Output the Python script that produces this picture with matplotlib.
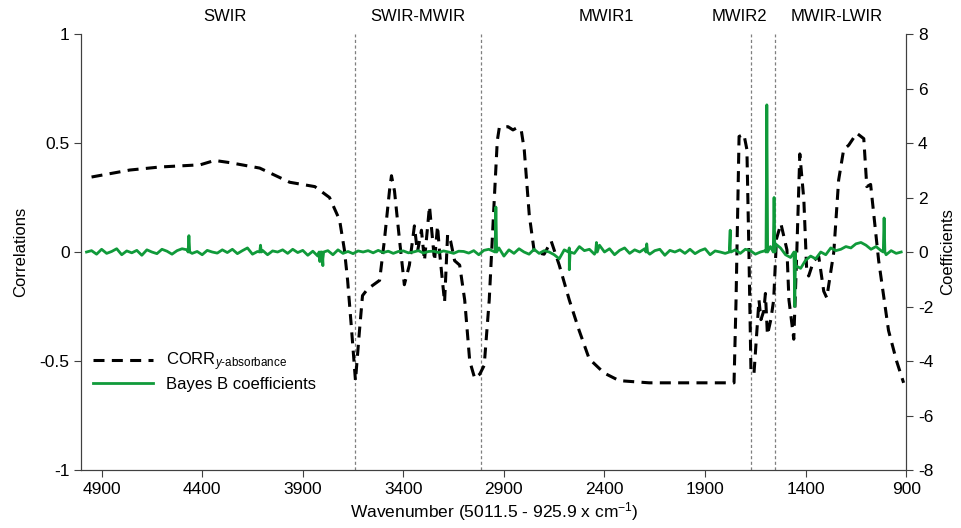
import matplotlib
matplotlib.use("Agg")
import matplotlib.pyplot as plt
import matplotlib.transforms as mtransforms
import numpy as np

plt.rcParams['font.family'] = ['Liberation Sans', 'DejaVu Sans']
plt.rcParams['mathtext.fontset'] = 'custom'
plt.rcParams['mathtext.rm'] = 'Liberation Sans'
plt.rcParams['mathtext.it'] = 'Liberation Sans:italic'

# correlation curve (left axis)
corr_wn = [4950, 4760, 4610, 4410, 4338, 4263, 4114, 3965, 3840, 3767, 3717, 3693,
           3677, 3657, 3638, 3618, 3603, 3578, 3518, 3494, 3469, 3459, 3444, 3419,
           3395, 3370, 3345, 3330, 3310, 3295, 3270, 3245, 3230, 3220, 3195, 3180,
           3165, 3145, 3120, 3095, 3070, 3045, 3020, 2998, 2973, 2948, 2933, 2923,
           2880, 2855, 2835, 2814, 2799, 2774, 2749, 2700, 2665, 2625, 2575, 2526,
           2476, 2402, 2327, 2178, 1930, 1756, 1746, 1731, 1707, 1692, 1682, 1672,
           1657, 1632, 1622, 1608, 1600, 1590, 1573, 1559, 1545, 1523, 1493, 1483,
           1459, 1444, 1429, 1409, 1395, 1385, 1360, 1335, 1310, 1295, 1260, 1236,
           1211, 1186, 1146, 1111, 1096, 1077, 1037, 988, 948, 913]
corr_val = [0.344, 0.376, 0.39, 0.40, 0.42, 0.41, 0.385, 0.32, 0.30, 0.25, 0.147, 0.01,
            -0.13, -0.36, -0.59, -0.36, -0.2, -0.17, -0.13, 0.055, 0.28, 0.35, 0.28, 0.055,
            -0.15, -0.06, 0.12, 0.0, 0.1, -0.04, 0.21, -0.04, 0.12, 0.0, -0.23, 0.08,
            0.05, -0.04, -0.06, -0.22, -0.5, -0.58, -0.56, -0.52, -0.22, 0.24, 0.51, 0.57,
            0.575, 0.56, 0.57, 0.56, 0.47, 0.17, 0.0, -0.01, 0.05, -0.06, -0.22, -0.36,
            -0.49, -0.555, -0.59, -0.6, -0.6, -0.6, -0.22, 0.53, 0.54, 0.47, 0.0, -0.54,
            -0.56, -0.22, -0.31, -0.27, -0.19, -0.38, -0.31, -0.22, 0.06, 0.13, 0.01, -0.22,
            -0.40, 0.0, 0.45, 0.24, -0.08, -0.11, -0.04, -0.02, -0.18, -0.21, 0.0, 0.33,
            0.47, 0.49, 0.545, 0.52, 0.30, 0.31, -0.04, -0.36, -0.5, -0.6]

# Bayes B coefficients (right axis): baseline every 25 cm-1 plus spikes
coef_base = [0.0, 0.05, -0.08, 0.1, -0.05, 0.02, 0.12, -0.1, 0.04, -0.03,
             0.06, -0.12, 0.08, 0.0, -0.06, 0.1, 0.03, -0.08, 0.05, 0.12,
             0.08, -0.05, 0.02, -0.1, 0.06, 0.0, -0.04, 0.08, -0.02, 0.1,
             -0.06, 0.05, 0.15, -0.08, 0.02, 0.06, -0.1, 0.04, 0.0, 0.08,
             -0.05, 0.1, -0.02, 0.06, -0.12, 0.03, -0.15, -0.25, 0.05, -0.1,
             0.08, -0.05, 0.02, -0.06, 0.04, 0.0, 0.05, -0.03, 0.06, -0.02,
             0.03, -0.05, 0.02, 0.04, -0.03, 0.0, 0.05, -0.04, 0.02, 0.03,
             -0.02, 0.04, 0.0, -0.05, 0.03, 0.02, -0.04, 0.05, -0.1, 0.06,
             0.1, 0.02, 0.15, -0.15, 0.08, -0.05, 0.12, 0.0, -0.08, 0.1,
             -0.05, 0.05, 0.0, -0.1, -0.25, 0.08, 0.15, -0.05, 0.2, 0.05,
             0.1, -0.08, 0.25, 0.0, 0.12, -0.1, 0.06, 0.15, -0.05, 0.08,
             0.0, 0.12, -0.08, 0.05, 0.1, -0.12, 0.06, 0.0, 0.08, -0.05,
             0.1, -0.06, 0.05, 0.12, -0.1, 0.04, 0.0, -0.05, 0.06, 0.08,
             -0.05, 0.1, 0.05, -0.08, 0.0, 0.05, 0.2, 0.3, 0.15, -0.1,
             -0.2, -0.5, -0.6, -0.3, -0.15, -0.25, 0.0, -0.1, 0.15, 0.05,
             0.1, 0.2, 0.15, 0.3, 0.35, 0.25, 0.1, 0.2, 0.05, -0.1,
             0.05, -0.05, 0.0]
coef_base_wn = np.arange(4975, 924, -25)

spike_wn = [4466, 4110, 3815, 3800, 2940, 2575, 2440, 2190, 1775, 1593, 1557, 1454, 1010]
spike_val = [0.6, 0.25, -0.35, -0.5, 1.65, -0.65, 0.35, 0.3, 0.8, 5.4, 2.0, -2.0, 1.25]

regions = ['SWIR', 'SWIR-MWIR', 'MWIR1', 'MWIR2', 'MWIR-LWIR']
region_pos = [4288, 3330, 2392, 1727, 1246]
boundaries = [3640, 3015, 1670, 1553]

# merge spikes into baseline (narrow triangles)
wn = list(coef_base_wn)
val = list(coef_base)
for w, v in zip(spike_wn, spike_val):
    wn += [w + 4, w, w - 4]
    val += [0.0, v, 0.0]
order = np.argsort(wn)[::-1]
coef_wn = np.array(wn)[order]
coef_val = np.array(val)[order]

fig, ax = plt.subplots(figsize=(9.61, 5.28), dpi=100)
fig.subplots_adjust(left=0.0848, right=0.943, top=0.9356, bottom=0.1098)
ax2 = ax.twinx()

for b in boundaries:
    ax.axvline(b, color='#7f7f7f', lw=0.9, linestyle=(0, (2.5, 2)), zorder=1)

l1, = ax.plot(corr_wn, corr_val, color='black', lw=2.2, linestyle=(0, (3.6, 2.4)),
              label=r'CORR$_{y\text{-absorbance}}$', zorder=3)
l2, = ax2.plot(coef_wn, coef_val, color='#109a3a', lw=2.0, label='Bayes B coefficients')

ax.set_xlim(5000, 900)
ax.set_ylim(-1, 1)
ax2.set_ylim(-8, 8)
ax.set_xticks(np.arange(4900, 899, -500))
ax.set_yticks([-1, -0.5, 0, 0.5, 1])
ax.set_yticklabels(['-1', '-0.5', '0', '0.5', '1'])
ax2.set_yticks(np.arange(-8, 9, 2))
ax2.set_yticklabels([str(t) for t in np.arange(-8, 9, 2)])

for a in (ax, ax2):
    a.spines['top'].set_visible(False)
    for s in a.spines.values():
        s.set_color('#404040')
    a.tick_params(labelsize=12.5, colors='#404040', labelcolor='black', length=5)

ax.set_xlabel('Wavenumber (5011.5 - 925.9 x cm$^{-1}$)', fontsize=12.5, labelpad=2)
ax.set_ylabel('Correlations', fontsize=12, labelpad=8)
ax2.set_ylabel('Coefficients', fontsize=12, labelpad=5)

trans = mtransforms.blended_transform_factory(ax.transData, ax.transAxes)
for name, pos in zip(regions, region_pos):
    ax.text(pos, 1.039, name, transform=trans, ha='center', va='center', fontsize=12)

ax2.legend([l1, l2], [l1.get_label(), l2.get_label()], loc='upper left',
           bbox_to_anchor=(0.0, 0.30), frameon=False, fontsize=12, handlelength=3.6,
           labelspacing=0.2, borderaxespad=0.3)

fig.savefig('out.png', dpi=100)
